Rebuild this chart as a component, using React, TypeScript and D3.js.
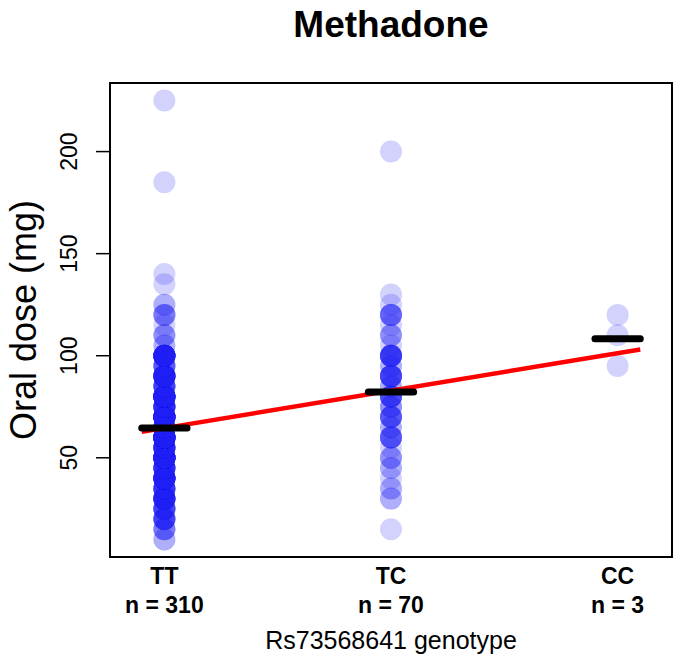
import React from "react";
import * as d3 from "d3";

const categories = ["TT", "TC", "CC"];
const groupN = ["n = 310", "n = 70", "n = 3"];
const yTicks = [50, 100, 150, 200];

// dose value and how many subjects share it (read from overlap density)
const ttDoses = [10, 15, 20, 25, 30, 35, 40, 45, 50, 55, 60, 65, 70, 75, 80, 85, 90, 95, 100, 105, 110, 115, 120, 125, 135, 140, 185, 225];
const ttCounts = [2, 4, 8, 8, 16, 10, 22, 12, 29, 14, 33, 12, 30, 12, 29, 8, 18, 6, 21, 2, 3, 1, 4, 2, 1, 1, 1, 1];
const tcDoses = [15, 30, 35, 40, 45, 50, 55, 60, 65, 70, 75, 80, 85, 90, 95, 100, 105, 110, 115, 120, 125, 130, 200];
const tcCounts = [1, 2, 2, 1, 2, 3, 1, 6, 2, 6, 3, 7, 2, 8, 2, 9, 1, 3, 1, 5, 1, 1, 1];
const ccDoses = [95, 110, 120];
const ccCounts = [1, 1, 1];

type Pt = { g: number; v: number };

function expand(g: number, doses: number[], counts: number[]): Pt[] {
  const out: Pt[] = [];
  doses.forEach((v, i) => {
    for (let k = 0; k < counts[i]; k++) out.push({ g, v });
  });
  return out;
}

export default function App() {
  const W = 684, H = 666;
  const left = 110, right = 672, top = 83, bottom = 557;
  const x = d3.scaleLinear().domain([0.76, 3.24]).range([left, right]);
  const y = d3.scaleLinear().domain([1.4, 233.6]).range([bottom, top]);

  const groups = [
    expand(1, ttDoses, ttCounts),
    expand(2, tcDoses, tcCounts),
    expand(3, ccDoses, ccCounts),
  ];
  const all = groups.flat();
  const xm = d3.mean(all, (d) => d.g)!;
  const ym = d3.mean(all, (d) => d.v)!;
  const sxy = d3.sum(all, (d) => (d.g - xm) * (d.v - ym));
  const sxx = d3.sum(all, (d) => (d.g - xm) * (d.g - xm));
  const slope = sxy / sxx;
  const icpt = ym - slope * xm;
  const line = d3.line<number>().x((g) => x(g)).y((g) => y(icpt + slope * g));
  const means = groups.map((gr) => d3.mean(gr, (d) => d.v)!);

  const font = "'Liberation Sans', Arial, Helvetica, sans-serif";

  return (
    <svg width={W} height={H} style={{ position: "absolute", left: 0, top: 0 }} fontFamily={font}>
      <rect width={W} height={H} fill="white" />
      <text x={(left + right) / 2} y={37} textAnchor="middle" fontSize={37} fontWeight="bold">
        Methadone
      </text>
      {all.map((d, i) => (
        <circle key={i} cx={x(d.g)} cy={y(d.v)} r={11} fill="rgb(30,30,245)" fillOpacity={0.2} />
      ))}
      <path d={line([0.9, 3.1]) || ""} stroke="red" strokeWidth={4.5} fill="none" />
      {means.map((m, i) => (
        <line key={i} x1={x(i + 1 - 0.1)} x2={x(i + 1 + 0.1)} y1={y(m)} y2={y(m)} stroke="black" strokeWidth={7} strokeLinecap="round" />
      ))}
      <rect x={left} y={top} width={right - left} height={bottom - top} fill="none" stroke="black" strokeWidth={2} />
      {yTicks.map((t) => (
        <g key={t}>
          <line x1={left - 14} x2={left} y1={y(t)} y2={y(t)} stroke="black" strokeWidth={1.5} />
          <text transform={`translate(77,${y(t)}) rotate(-90)`} textAnchor="middle" fontSize={23}>
            {t}
          </text>
        </g>
      ))}
      <text transform={`translate(36,${(top + bottom) / 2}) rotate(-90)`} textAnchor="middle" fontSize={36}>
        Oral dose (mg)
      </text>
      {categories.map((c, i) => (
        <g key={c}>
          <text x={x(i + 1)} y={584} textAnchor="middle" fontSize={23} fontWeight="bold">
            {c}
          </text>
          <text x={x(i + 1)} y={613} textAnchor="middle" fontSize={23} fontWeight="bold">
            {groupN[i]}
          </text>
        </g>
      ))}
      <text x={(left + right) / 2} y={649} textAnchor="middle" fontSize={25}>
        Rs73568641 genotype
      </text>
    </svg>
  );
}
